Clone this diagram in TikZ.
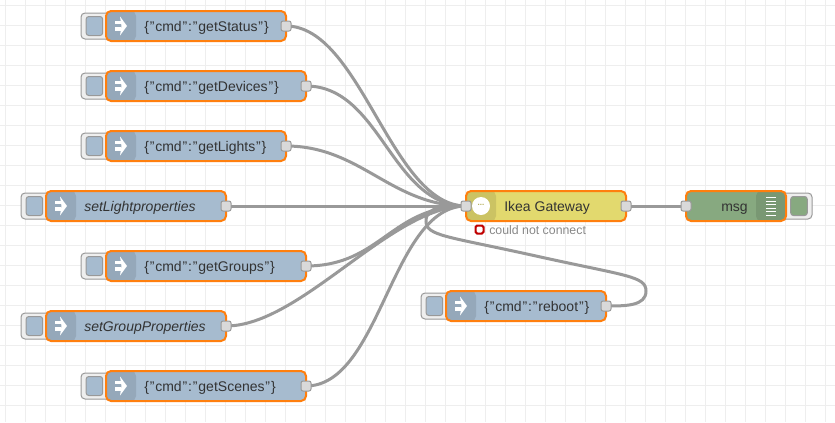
\documentclass[tikz,border=0pt]{standalone}
\usepackage{fontspec}
\setmainfont{Liberation Sans}
\usetikzlibrary{calc}
\pgfdeclarelayer{gridlayer}
\pgfdeclarelayer{wirelayer}
\pgfsetlayers{gridlayer,wirelayer,main}
\definecolor{gridc}{HTML}{EEEEEE}
\definecolor{wirec}{HTML}{999999}
\definecolor{orangec}{HTML}{FF7F0E}
\definecolor{bluec}{HTML}{A6BBCF}
\definecolor{bluebar}{HTML}{95A8BA}
\definecolor{yellowc}{HTML}{E2D96E}
\definecolor{yellowbar}{HTML}{CBC363}
\definecolor{greenc}{HTML}{87A980}
\definecolor{greenbar}{HTML}{799873}
\definecolor{portc}{HTML}{D9D9D9}
\definecolor{btnc}{HTML}{EEEEEE}
\definecolor{textc}{HTML}{333333}
\definecolor{statusc}{HTML}{C00000}
\definecolor{statust}{HTML}{888888}
\newcommand{\qq}{\kern0.65pt"\kern0.65pt}
\tikzset{
  x=0.75pt,y=-0.75pt,
  flow/.style={draw=orangec,line width=1.5pt,rounded corners=3.75pt,minimum height=22.5pt,inner sep=0pt,outer sep=0pt},
  injectnode/.style={flow,fill=bluec,path picture={\fill[bluebar] (path picture bounding box.north west) rectangle ++(30,30);}},
  gatenode/.style={flow,fill=yellowc,path picture={\fill[yellowbar] (path picture bounding box.north west) rectangle ++(30,30);}},
  debugnode/.style={flow,fill=greenc,path picture={\fill[greenbar] (path picture bounding box.north east) rectangle ++(-30,30);}},
  portnode/.style={draw=wirec,fill=portc,line width=0.75pt,rounded corners=1.5pt,minimum size=7.5pt,inner sep=0pt,outer sep=0pt},
  btn/.style={draw=wirec,fill=btnc,line width=0.75pt,rounded corners=3pt,minimum width=23.25pt,minimum height=19.5pt,inner sep=0pt,outer sep=0pt},
  btninner/.style={draw=wirec,line width=0.75pt,rounded corners=2pt,minimum width=12.4pt,minimum height=14.25pt,inner sep=0pt,outer sep=0pt},
  lbl/.style={anchor=base west,text=textc,font=\fontsize{10.5pt}{12pt}\selectfont,inner sep=0pt},
  wire/.style={draw=wirec,line width=2.25pt},
}
\newcommand{\injectflow}[6]{% id, left, cy, width, text, font extra
  \node[btn,anchor=east] (b#1) at ($(#2,#3)+(6,0)$) {};
  \node[btninner,fill=bluec] (bi#1) at ($(#2,#3)+(-11.6,0)$) {};
  \node[injectnode,anchor=west,minimum width=#4*0.75pt] (n#1) at (#2,#3) {};
  \fill[white] ($(n#1.west)+(8.5,-5.2)$) rectangle ++(6,3.4);
  \fill[white] ($(n#1.west)+(8.5,1.2)$) rectangle ++(6,3.6);
  \fill[white] ($(n#1.west)+(14,-9.5)$) -- ++(7,9.5) -- ++(-7,9.5) -- ++(1.5,-9.5) -- cycle;
  \node[lbl] (t#1) at ($(n#1.west)+(38,5)$) {#6#5};
  \node[portnode] (p#1) at (n#1.east) {};
}
\begin{document}
\begin{tikzpicture}
\useasboundingbox (0,0) rectangle (835,422);
\begin{pgfonlayer}{gridlayer}
  \fill[white] (0,0) rectangle (835,422);
  \foreach \i in {0,...,41} {\draw[gridc,line width=0.75pt] ({5+20*\i},0) -- ({5+20*\i},422);}
  \foreach \i in {0,...,20} {\draw[gridc,line width=0.75pt] (0,{5+20*\i}) -- (835,{5+20*\i});}
\end{pgfonlayer}

\injectflow{a}{106}{26}{180}{\{\qq cmd\qq:\qq getStatus\qq\}}{}
\injectflow{b}{106}{86}{200}{\{\qq cmd\qq:\qq getDevices\qq\}}{}
\injectflow{c}{106}{146}{180}{\{\qq cmd\qq:\qq getLights\qq\}}{}
\injectflow{d}{46}{206}{180}{setLightproperties}{\itshape}
\injectflow{e}{106}{266}{200}{\{\qq cmd\qq:\qq getGroups\qq\}}{}
\injectflow{f}{46}{326}{180}{setGroupProperties}{\itshape}
\injectflow{g}{106}{386}{200}{\{\qq cmd\qq:\qq getScenes\qq\}}{}
\injectflow{h}{446}{306}{160}{\{\qq cmd\qq:\qq reboot\qq\}}{}

% gateway
\node[gatenode,anchor=west,minimum width=120pt] (gw) at (466,206) {};
\node[circle,fill=white,minimum size=13.5pt,inner sep=0pt] (gwicon) at (481,206) {};
\node[text=yellowc!80!black,font=\bfseries\fontsize{6pt}{6pt}\selectfont,inner sep=0pt] (gwdots) at (481,204.5) {...};
\node[lbl] (gwt) at (504,211) {Ikea Gateway};
\node[portnode] (gwin) at (gw.west) {};
\node[portnode] (gwout) at (gw.east) {};
\node[draw=statusc,fill=white,line width=1.5pt,rounded corners=1.2pt,minimum size=6pt,inner sep=0pt,outer sep=0pt] (st) at (479.5,229.5) {};
\node[anchor=base west,text=statust,font=\fontsize{9.25pt}{10pt}\selectfont,inner sep=0pt] (stt) at (489,234) {could not connect};

% debug
\node[btn,anchor=west] (bm) at (781,206) {};
\node[btninner,fill=greenc] (bim) at (799,206) {};
\node[debugnode,anchor=west,minimum width=75pt] (dbg) at (686,206) {};
\foreach \yy in {-9,-5.5,-2,1.5,5,8.5} {\fill[white] ($(dbg.east)+(-20.5,\yy)$) rectangle ++(10.5,1.3);}
\node[anchor=base east,text=textc,font=\fontsize{10.5pt}{12pt}\selectfont,inner sep=0pt] (dbgt) at (748,211) {msg};
\node[portnode] (dbgin) at (dbg.west) {};

\begin{pgfonlayer}{wirelayer}
  \foreach \s in {a,b,c,d,e,f,g}{
    \draw[wire] (p\s.center) .. controls +(75,0) and +(-75,0) .. (gwin.center);
  }
  \draw[wire] (gwout.center) -- (dbgin.center);
  \draw[wire] (ph.center) .. controls (626,306) and (646,306) .. (646,291)
     .. controls (646,276) and (626,276) .. (536,256)
     .. controls (446,236) and (426,236) .. (426,221)
     .. controls (426,206) and (446,206) .. (gwin.center);
\end{pgfonlayer}
\end{tikzpicture}
\end{document}
